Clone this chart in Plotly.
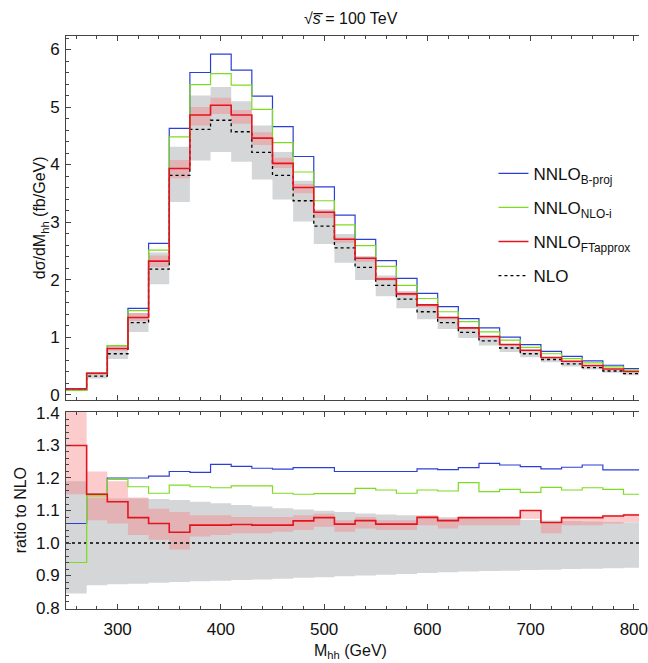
import plotly.graph_objects as go

# M_hh bin edges (GeV), 20 GeV bins
mhh_edges = [250, 270, 290, 310, 330, 350, 370, 390, 410, 430, 450, 470, 490, 510,
             530, 550, 570, 590, 610, 630, 650, 670, 690, 710, 730, 750, 770, 790, 810]

# dsigma/dM_hh (fb/GeV), one value per bin
nlo = [0.08, 0.32, 0.71, 1.25, 2.18, 3.81, 4.61, 4.77, 4.57, 4.21, 3.81, 3.37, 2.93, 2.55,
       2.21, 1.90, 1.66, 1.44, 1.25, 1.08, 0.935, 0.81, 0.71, 0.61, 0.535, 0.47, 0.41, 0.365]
nlo_lo = [0.07, 0.28, 0.62, 1.09, 1.92, 3.35, 4.07, 4.22, 4.05, 3.74, 3.39, 3.01, 2.62, 2.29,
          1.99, 1.71, 1.50, 1.31, 1.14, 0.985, 0.855, 0.74, 0.65, 0.56, 0.49, 0.435, 0.38, 0.335]
nlo_hi = [0.095, 0.365, 0.81, 1.42, 2.47, 4.31, 5.20, 5.35, 5.10, 4.68, 4.22, 3.72, 3.22, 2.79,
          2.41, 2.07, 1.80, 1.56, 1.35, 1.16, 1.005, 0.87, 0.76, 0.65, 0.57, 0.50, 0.435, 0.39]
nnlo_bproj = [0.082, 0.37, 0.85, 1.50, 2.63, 4.63, 5.60, 5.92, 5.64, 5.19, 4.66, 4.14, 3.61, 3.12,
              2.70, 2.33, 2.02, 1.76, 1.53, 1.32, 1.16, 1.00, 0.87, 0.75, 0.665, 0.585, 0.51, 0.45]
nnlo_nloi = [0.072, 0.37, 0.85, 1.46, 2.51, 4.48, 5.39, 5.58, 5.38, 4.96, 4.38, 3.87, 3.37, 2.95,
             2.59, 2.23, 1.90, 1.67, 1.44, 1.27, 1.09, 0.945, 0.82, 0.71, 0.625, 0.55, 0.48, 0.425]
nnlo_ft = [0.10, 0.37, 0.80, 1.34, 2.32, 3.93, 4.86, 5.03, 4.86, 4.46, 4.02, 3.60, 3.17, 2.70,
           2.37, 2.01, 1.75, 1.56, 1.34, 1.16, 1.01, 0.87, 0.77, 0.645, 0.58, 0.505, 0.445, 0.40]
nnlo_ft_lo = [0.09, 0.34, 0.76, 1.28, 2.22, 3.76, 4.68, 4.88, 4.71, 4.34, 3.94, 3.50, 3.07, 2.64,
              2.31, 1.98, 1.72, 1.52, 1.31, 1.14, 0.99, 0.85, 0.75, 0.63, 0.56, 0.49, 0.43, 0.39]
nnlo_ft_hi = [0.11, 0.39, 0.84, 1.42, 2.42, 4.08, 5.00, 5.16, 4.95, 4.56, 4.12, 3.66, 3.20, 2.73,
              2.39, 2.04, 1.78, 1.56, 1.35, 1.17, 1.02, 0.87, 0.77, 0.65, 0.58, 0.51, 0.45, 0.41]

# ratios to NLO
ratio_nlo_lo = [0.845, 0.87, 0.873, 0.875, 0.878, 0.88, 0.882, 0.884, 0.886, 0.888, 0.89, 0.893,
                0.895, 0.898, 0.90, 0.902, 0.905, 0.908, 0.91, 0.912, 0.914, 0.915, 0.917, 0.918,
                0.92, 0.921, 0.922, 0.924]
ratio_nlo_hi = [1.19, 1.14, 1.137, 1.137, 1.135, 1.132, 1.127, 1.122, 1.117, 1.112, 1.107, 1.103,
                1.099, 1.095, 1.091, 1.088, 1.085, 1.082, 1.079, 1.077, 1.075, 1.073, 1.071, 1.069,
                1.068, 1.066, 1.065, 1.064]
ratio_bproj = [1.06, 1.15, 1.20, 1.20, 1.206, 1.22, 1.217, 1.242, 1.236, 1.23, 1.227, 1.232, 1.232,
               1.22, 1.22, 1.22, 1.22, 1.228, 1.226, 1.232, 1.245, 1.24, 1.235, 1.228, 1.233, 1.24,
               1.225, 1.225]
ratio_nloi = [0.94, 1.145, 1.196, 1.173, 1.153, 1.178, 1.173, 1.17, 1.176, 1.176, 1.153, 1.15,
              1.152, 1.152, 1.168, 1.163, 1.153, 1.163, 1.16, 1.186, 1.158, 1.165, 1.156, 1.171,
              1.163, 1.17, 1.165, 1.15]
ratio_ft = [1.30, 1.15, 1.127, 1.078, 1.06, 1.033, 1.055, 1.055, 1.057, 1.055, 1.055, 1.068, 1.078,
            1.058, 1.069, 1.058, 1.058, 1.079, 1.069, 1.078, 1.078, 1.078, 1.10, 1.063, 1.078,
            1.078, 1.083, 1.086]
ratio_ft_lo = [1.15, 1.07, 1.06, 1.025, 1.01, 0.98, 1.02, 1.025, 1.03, 1.03, 1.035, 1.04, 1.05,
               1.035, 1.045, 1.04, 1.04, 1.055, 1.045, 1.055, 1.055, 1.055, 1.075, 1.03, 1.055,
               1.055, 1.06, 1.065]
ratio_ft_hi = [1.42, 1.22, 1.19, 1.14, 1.105, 1.095, 1.085, 1.085, 1.08, 1.08, 1.08, 1.085, 1.09,
               1.07, 1.08, 1.07, 1.07, 1.085, 1.075, 1.08, 1.08, 1.08, 1.10, 1.065, 1.08, 1.08,
               1.085, 1.09]

BLUE = "#2b3fd6"
GREEN = "#7ddc1f"
RED = "#e4141e"
GREY_FILL = "#d5d6d8"
PINK_FILL = "rgba(246,120,120,0.38)"
FONT = "Liberation Sans, Arial, sans-serif"


def steps(vals):
    return list(vals) + [vals[-1]]


fig = go.Figure()


def band(lo, hi, color, xa, ya):
    fig.add_trace(go.Scatter(x=mhh_edges, y=steps(lo), mode="lines", line=dict(width=0, shape="hv"),
                             hoverinfo="skip", showlegend=False, xaxis=xa, yaxis=ya))
    fig.add_trace(go.Scatter(x=mhh_edges, y=steps(hi), mode="lines", line=dict(width=0, shape="hv"),
                             fill="tonexty", fillcolor=color, hoverinfo="skip", showlegend=False,
                             xaxis=xa, yaxis=ya))


def hist(vals, color, width, dash, xa, ya, name=None, rank=None):
    fig.add_trace(go.Scatter(x=mhh_edges, y=steps(vals), mode="lines",
                             line=dict(color=color, width=width, dash=dash, shape="hv"),
                             name=name, showlegend=name is not None,
                             legendgroup=name, legendrank=rank, xaxis=xa, yaxis=ya))


# upper panel: differential distributions
band(nlo_lo, nlo_hi, GREY_FILL, "x", "y")
band(nnlo_ft_lo, nnlo_ft_hi, PINK_FILL, "x", "y")
hist(nlo, "black", 1.3, "dot", "x", "y", "NLO", 4)
hist(nnlo_bproj, BLUE, 1.2, "solid", "x", "y", "NNLO<sub>B-proj</sub>", 1)
hist(nnlo_nloi, GREEN, 1.2, "solid", "x", "y", "NNLO<sub>NLO-i</sub>", 2)
hist(nnlo_ft, RED, 1.6, "solid", "x", "y", "NNLO<sub>FTapprox</sub>", 3)

# lower panel: ratios to NLO
band(ratio_nlo_lo, ratio_nlo_hi, GREY_FILL, "x2", "y2")
band(ratio_ft_lo, ratio_ft_hi, PINK_FILL, "x2", "y2")
hist([1.0] * len(nlo), "black", 1.3, "dot", "x2", "y2")
hist(ratio_bproj, BLUE, 1.2, "solid", "x2", "y2")
hist(ratio_nloi, GREEN, 1.2, "solid", "x2", "y2")
hist(ratio_ft, RED, 1.6, "solid", "x2", "y2")

AXCOL = "#444444"
tickfont = dict(family=FONT, size=17, color="#111111")
xcommon = dict(range=[250, 805], dtick=100, ticks="inside", ticklen=5, tickcolor=AXCOL,
               minor=dict(dtick=20, ticks="inside", ticklen=3, tickcolor=AXCOL),
               showline=True, linecolor=AXCOL, linewidth=1, mirror="allticks",
               showgrid=False, zeroline=False, tickfont=tickfont)
ycommon = dict(ticks="inside", ticklen=5, tickcolor=AXCOL, showline=True, linecolor=AXCOL,
               linewidth=1, mirror=False, showgrid=False, zeroline=False, tickfont=tickfont,
               ticklabelstandoff=2)

fig.update_layout(
    width=648, height=663,
    margin=dict(l=66, r=0, t=36, b=54),
    paper_bgcolor="white", plot_bgcolor="white",
    font=dict(family=FONT, size=16, color="#111111"),
    xaxis=dict(domain=[0, 1], anchor="y", showticklabels=False, **xcommon),
    yaxis=dict(domain=[0.3647, 1], anchor="x", range=[-0.095, 6.235], dtick=1,
               minor=dict(dtick=0.2, ticks="inside", ticklen=3, tickcolor=AXCOL), **ycommon),
    xaxis2=dict(domain=[0, 1], anchor="y2", showticklabels=True, ticklabeloverflow="allow",
                ticklabelstandoff=5, **xcommon),
    yaxis2=dict(domain=[0, 0.3438], anchor="x2", range=[0.797, 1.403], dtick=0.1,
                tickformat=".1f",
                minor=dict(dtick=0.02, ticks="inside", ticklen=3, tickcolor=AXCOL), **ycommon),
    legend=dict(x=0.746, y=0.791, xanchor="left", yanchor="top", bgcolor="rgba(0,0,0,0)",
                font=dict(family=FONT, size=17), tracegroupgap=9, itemwidth=30),
    showlegend=True,
)

fig.add_annotation(text="√<i>s̅</i> = 100 TeV", xref="paper", yref="paper", x=0.497, y=1.0,
                   yshift=18, xanchor="center", yanchor="middle", showarrow=False,
                   font=dict(family=FONT, size=16))
fig.add_annotation(text="dσ/dM<sub>hh</sub> (fb/GeV)", xref="paper", yref="paper",
                   x=-0.045, y=0.6823, xanchor="center", yanchor="middle", textangle=-90,
                   showarrow=False, font=dict(family=FONT, size=16))
fig.add_annotation(text="ratio to NLO", xref="paper", yref="paper",
                   x=-0.079, y=0.1719, xanchor="center", yanchor="middle", textangle=-90,
                   showarrow=False, font=dict(family=FONT, size=16))
fig.add_annotation(text="M<sub>hh</sub> (GeV)", xref="paper", yref="paper", x=0.497, y=0,
                   yshift=-42, xanchor="center", yanchor="middle", showarrow=False,
                   font=dict(family=FONT, size=16))

fig.write_html("out.html")
